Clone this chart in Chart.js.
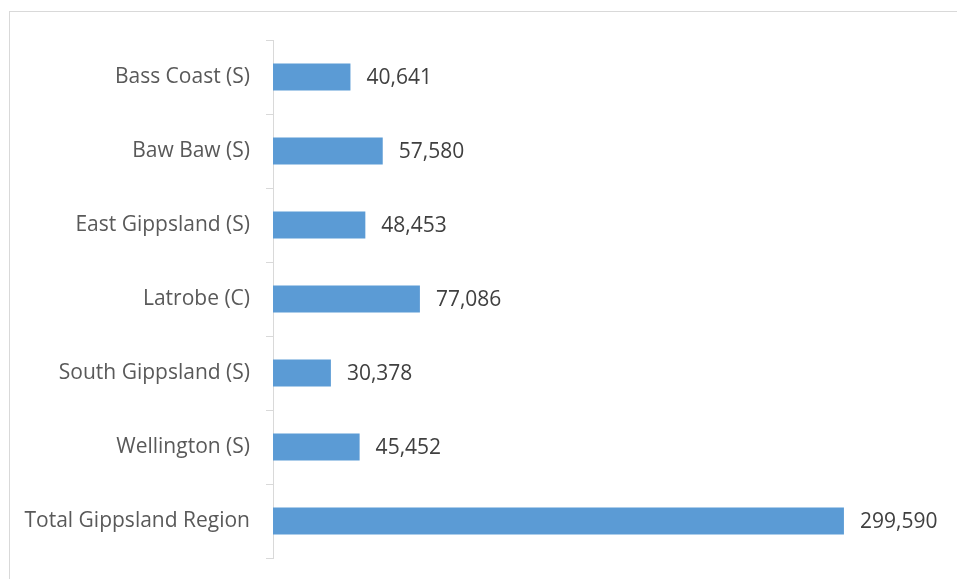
<!DOCTYPE html>
<html>
<head>
<meta charset="utf-8">
<script src="https://cdn.jsdelivr.net/npm/chart.js@4"></script>
<style>
  body { margin: 0; background: #fff; overflow: hidden; }
  #frame { position: absolute; left: 9px; top: 11px; width: 1000px; height: 600px; border: 1px solid #d9d9d9; }
  #lga { position: absolute; left: 0; top: 0; }
</style>
</head>
<body>
<div id="frame"><canvas id="lga" width="947" height="567"></canvas></div>
<script>
const lgaNames = ['Bass Coast (S)', 'Baw Baw (S)', 'East Gippsland (S)', 'Latrobe (C)', 'South Gippsland (S)', 'Wellington (S)', 'Total Gippsland Region'];
const lgaPop = [40641, 57580, 48453, 77086, 30378, 45452, 299590];

// draws the numbers just after the end of each bar
const barLabels = {
  id: 'barLabels',
  afterDatasetsDraw(chart) {
    const ctx = chart.ctx;
    const meta = chart.getDatasetMeta(0);
    ctx.save();
    ctx.font = '21px "Open Sans"';
    ctx.fillStyle = '#404040';
    ctx.textAlign = 'left';
    ctx.textBaseline = 'middle';
    meta.data.forEach((bar, i) => {
      ctx.fillText(lgaPop[i].toLocaleString('en-US'), bar.x + 16, bar.y + 1);
    });
    ctx.restore();
  }
};

const dataLga = {
  labels: lgaNames,
  datasets: [{
    data: lgaPop,
    backgroundColor: '#5b9bd5',
    categoryPercentage: 1,
    barPercentage: 0.365
  }]
};

const configLga = {
  type: 'bar',
  data: dataLga,
  plugins: [barLabels],
  options: {
    indexAxis: 'y',
    responsive: false,
    animation: false,
    layout: { autoPadding: false, padding: { top: 28, bottom: 21, right: 17, left: 0 } },
    plugins: { legend: { display: false }, tooltip: { enabled: false } },
    scales: {
      x: { display: false, min: 0, max: 350000 },
      y: {
        afterFit(axis) { axis.width = 263; axis.paddingTop = 0; axis.paddingBottom = 0; },
        grid: { drawOnChartArea: false, tickLength: 7, color: '#d9d9d9', offset: true },
        border: { color: '#d9d9d9' },
        ticks: { padding: 16, color: '#595959', font: { family: 'Open Sans', size: 21 } }
      }
    }
  }
};

const myChartLga = new Chart(document.getElementById('lga'), configLga);
</script>
</body>
</html>
